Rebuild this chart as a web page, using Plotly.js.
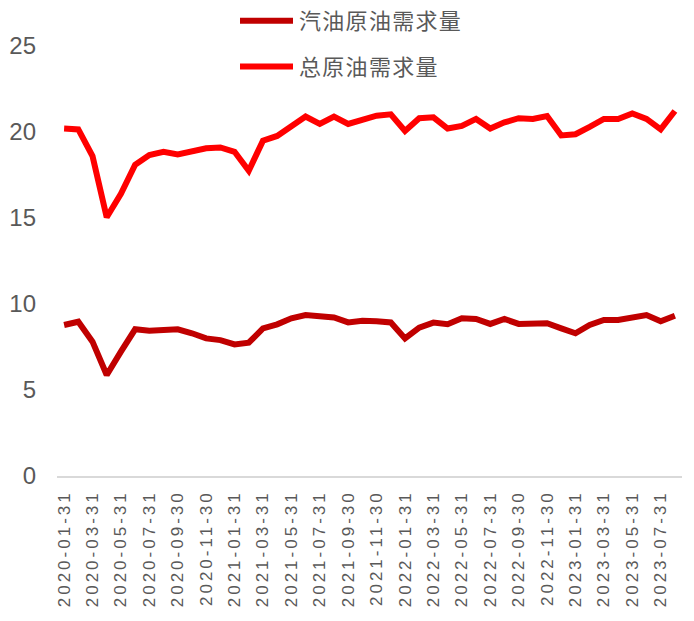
<!DOCTYPE html>
<html>
<head>
<meta charset="utf-8">
<script src="https://cdn.plot.ly/plotly-3.0.1.min.js"></script>
<style>
  html, body { margin: 0; padding: 0; background: #fff; }
  #chart { width: 694px; height: 621px; }
  .xtick text { letter-spacing: 3px; }
  .legendtext { letter-spacing: 1.3px; }
</style>
</head>
<body>
<div id="chart"></div>
<script>
const dates = [
  "2020-01-31","2020-02-29","2020-03-31","2020-04-30","2020-05-31","2020-06-30",
  "2020-07-31","2020-08-31","2020-09-30","2020-10-31","2020-11-30","2020-12-31",
  "2021-01-31","2021-02-28","2021-03-31","2021-04-30","2021-05-31","2021-06-30",
  "2021-07-31","2021-08-31","2021-09-30","2021-10-31","2021-11-30","2021-12-31",
  "2022-01-31","2022-02-28","2022-03-31","2022-04-30","2022-05-31","2022-06-30",
  "2022-07-31","2022-08-31","2022-09-30","2022-10-31","2022-11-30","2022-12-31",
  "2023-01-31","2023-02-28","2023-03-31","2023-04-30","2023-05-31","2023-06-30",
  "2023-07-31","2023-08-31"
];

const tickLabels = [
  "2020-01-31","2020-03-31","2020-05-31","2020-07-31","2020-09-30","2020-11-30",
  "2021-01-31","2021-03-31","2021-05-31","2021-07-31","2021-09-30","2021-11-30",
  "2022-01-31","2022-03-31","2022-05-31","2022-07-31","2022-09-30","2022-11-30",
  "2023-01-31","2023-03-31","2023-05-31","2023-07-31"
];

const gasolineDemand = [
  8.78, 8.97, 7.81, 5.87, 7.23, 8.53, 8.45, 8.53, 8.53, 8.30, 8.00, 7.90,
  7.65, 7.75, 8.58, 8.82, 9.17, 9.36, 9.32, 9.22, 8.93, 9.02, 9.00, 8.93,
  8.00, 8.63, 8.92, 8.82, 9.17, 9.13, 8.84, 9.13, 8.84, 8.84, 8.88, 8.58,
  8.30, 8.78, 9.07, 9.07, 9.20, 9.36, 9.00, 9.32
];

const totalDemand = [
  20.20, 20.15, 18.60, 15.04, 16.40, 18.10, 18.66, 18.85, 18.70, 18.90, 19.05, 19.10,
  18.85, 17.75, 19.50, 19.77, 20.35, 20.90, 20.47, 20.90, 20.47, 20.68, 20.95, 21.03,
  20.06, 20.80, 20.85, 20.20, 20.35, 20.76, 20.20, 20.56, 20.80, 20.76, 20.93, 19.80,
  19.87, 20.30, 20.76, 20.76, 21.08, 20.76, 20.15, 21.22
];

const seriesNames = ["汽油原油需求量", "总原油需求量"];

const traces = [
  {
    x: dates, y: gasolineDemand, name: seriesNames[0], type: "scatter", mode: "lines",
    legendgroup: "g1",
    line: { color: "#C00000", width: 6 }
  },
  {
    x: dates, y: totalDemand, name: seriesNames[1], type: "scatter", mode: "lines",
    legendgroup: "g2",
    line: { color: "#FF0000", width: 6 }
  }
];

const layout = {
  width: 694, height: 621,
  margin: { l: 57, r: 12, t: 46, b: 145, pad: 0, autoexpand: false },
  paper_bgcolor: "#ffffff", plot_bgcolor: "#ffffff",
  font: { family: "Liberation Sans, Arial, sans-serif", color: "#595959" },
  showlegend: true,
  legend: {
    orientation: "v",
    xref: "container", yref: "container",
    x: 240 / 694, xanchor: "left",
    y: 1.0, yanchor: "top",
    tracegroupgap: 14,
    font: { family: "Noto Sans CJK SC", size: 22, color: "#595959" },
    bgcolor: "rgba(0,0,0,0)",
    itemwidth: 49
  },
  xaxis: {
    type: "category",
    automargin: false,
    range: [-0.5, dates.length - 0.5],
    tickmode: "array",
    tickvals: tickLabels,
    ticktext: tickLabels,
    tickangle: -90,
    ticks: "",
    showgrid: false,
    showline: true,
    linecolor: "#D9D9D9",
    linewidth: 1.5,
    zeroline: false,
    tickfont: { family: "Liberation Sans, Arial, sans-serif", size: 17, color: "#595959" },
    ticklabelstandoff: 6
  },
  yaxis: {
    automargin: false,
    range: [0, 25],
    tickvals: [0, 5, 10, 15, 20, 25],
    showgrid: false,
    zeroline: false,
    showline: false,
    ticks: "",
    tickfont: { family: "Liberation Sans, Arial, sans-serif", size: 24, color: "#595959" },
    ticklabelstandoff: 20
  }
};

Plotly.newPlot("chart", traces, layout, { staticPlot: true, displayModeBar: false }).then(function () {
  document.querySelectorAll(".legendlines path").forEach(function (p) {
    p.setAttribute("d", "M0,0h53");
  });
});
</script>
</body>
</html>
